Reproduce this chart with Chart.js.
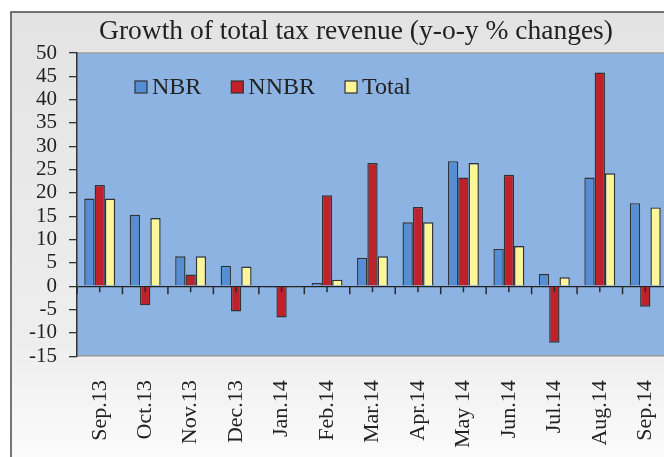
<!DOCTYPE html>
<html><head><meta charset="utf-8">
<script src="https://cdn.jsdelivr.net/npm/chart.js@4"></script>
<style>html,body{margin:0;padding:0;width:664px;height:457px;overflow:hidden;background:#fff}canvas{display:block}</style>
</head><body>
<canvas id="c" width="712" height="479"></canvas>
<script>
const categories = ["Sep.13","Oct.13","Nov.13","Dec.13","Jan.14","Feb.14","Mar.14","Apr.14","May 14","Jun.14","Jul.14","Aug.14","Sep.14"];
const nbr   = [18.8, 15.3, 6.4, 4.4, -0.3, 0.7, 6.1, 13.7, 26.8, 8.0, 2.6, 23.3, 17.8];
const nnbr  = [21.7, -4.1, 2.5, -5.4, -6.7, 19.5, 26.4, 17.0, 23.3, 23.9, -12.1, 45.8, -4.4];
const total = [18.8, 14.6, 6.4, 4.2, -0.2, 1.4, 6.4, 13.7, 26.4, 8.6, 1.9, 24.2, 16.9];
const seriesNames = ["NBR", "NNBR", "Total"];
const titleText = "Growth of total tax revenue (y-o-y % changes)";
const yMin = -15, yMax = 50, yStep = 5;

const SERIF = '"Liberation Serif", "DejaVu Serif", serif';

const framePlugin = {
  id: 'frame',
  beforeDraw(chart) {
    const ctx = chart.ctx, W = chart.width, H = chart.height, a = chart.chartArea;
    ctx.save();
    ctx.fillStyle = '#ffffff';
    ctx.fillRect(0, 0, W, H);
    const g = ctx.createLinearGradient(0, 12, 0, 457);
    g.addColorStop(0, '#e3e3e3');
    g.addColorStop(0.75, '#eeeeee');
    g.addColorStop(1, '#fbfbfb');
    ctx.fillStyle = g;
    ctx.fillRect(11, 12, W, H);
    ctx.strokeStyle = '#4a4a4a';
    ctx.lineWidth = 1.5;
    ctx.beginPath();
    ctx.moveTo(11, H + 5); ctx.lineTo(11, 12); ctx.lineTo(W + 5, 12);
    ctx.stroke();
    // plot area
    ctx.fillStyle = '#8db3e2';
    ctx.fillRect(a.left, a.top, a.right - a.left, a.bottom - a.top);
    ctx.strokeStyle = '#9c9c9c';
    ctx.lineWidth = 1.5;
    ctx.beginPath();
    ctx.moveTo(a.left, a.top); ctx.lineTo(a.right + 5, a.top);
    ctx.stroke();
    // title
    ctx.fillStyle = '#222';
    ctx.font = '27.5px ' + SERIF;
    ctx.textAlign = 'center';
    ctx.textBaseline = 'middle';
    ctx.fillText(titleText, 356, 32);
    ctx.restore();
  }
};

const zeroTicksPlugin = {
  id: 'zeroTicks',
  afterDatasetsDraw(chart) {
    const ctx = chart.ctx, xs = chart.scales.x, ys = chart.scales.y;
    const y0 = ys.getPixelForValue(0);
    const n = categories.length;
    const step = n > 1 ? xs.getPixelForValue(1) - xs.getPixelForValue(0) : 0;
    ctx.save();
    ctx.strokeStyle = '#2a2a2a';
    ctx.lineWidth = 1.5;
    ctx.beginPath();
    for (let i = 0; i <= n; i++) {
      const xb = xs.getPixelForValue(0) - step / 2 + i * step;
      ctx.moveTo(xb, y0); ctx.lineTo(xb, y0 + 8);
    }
    for (let i = 0; i < n; i++) {
      const xc = xs.getPixelForValue(i);
      ctx.moveTo(xc, y0); ctx.lineTo(xc, y0 + 6);
    }
    ctx.stroke();
    ctx.restore();
  }
};

const legendPlugin = {
  id: 'innerLegend',
  afterDraw(chart) {
    const ctx = chart.ctx, a = chart.chartArea;
    ctx.save();
    ctx.font = '24px ' + SERIF;
    ctx.textBaseline = 'middle';
    let x = a.left + 58;
    const y = a.top + 34;
    chart.data.datasets.forEach(ds => {
      ctx.fillStyle = ds.backgroundColor;
      ctx.fillRect(x, y - 6, 12, 12);
      ctx.strokeStyle = '#333';
      ctx.lineWidth = 1.2;
      ctx.strokeRect(x, y - 6, 12, 12);
      ctx.fillStyle = '#222';
      ctx.fillText(ds.label, x + 17, y + 1);
      x += 17 + ctx.measureText(ds.label).width + 30;
    });
    ctx.restore();
  }
};

const colors = ['#558ed5', '#c0202a', '#fdf59a'];
const seriesData = [nbr, nnbr, total];

new Chart(document.getElementById('c'), {
  type: 'bar',
  data: {
    labels: categories,
    datasets: seriesNames.map((name, i) => ({
      label: name,
      data: seriesData[i],
      backgroundColor: colors[i],
      borderColor: '#333333',
      borderWidth: 1.4,
      categoryPercentage: 0.68,
      barPercentage: 1.0
    }))
  },
  options: {
    responsive: false,
    animation: false,
    devicePixelRatio: 1,
    layout: { padding: { left: 17, right: 44, top: 53, bottom: 15 } },
    plugins: {
      legend: { display: false },
      tooltip: { enabled: false },
      title: { display: false }
    },
    scales: {
      x: {
        ticks: {
          color: '#222',
          font: { family: SERIF, size: 22 },
          minRotation: 90, maxRotation: 90,
          autoSkip: false,
          padding: 16
        },
        grid: { display: false },
        border: { display: true, color: '#9c9c9c', width: 1.5 }
      },
      y: {
        min: yMin, max: yMax,
        ticks: {
          stepSize: yStep,
          autoSkip: false,
          color: '#222',
          font: { family: SERIF, size: 21 },
          padding: 12
        },
        grid: {
          drawOnChartArea: true,
          color: ctx => (ctx.tick && ctx.tick.value === 0) ? '#222222' : 'rgba(0,0,0,0)',
          tickColor: '#333',
          tickLength: 8,
          lineWidth: 1.3
        },
        border: { color: '#333', width: 1.5 }
      }
    }
  },
  plugins: [framePlugin, zeroTicksPlugin, legendPlugin]
});
</script>
</body></html>
